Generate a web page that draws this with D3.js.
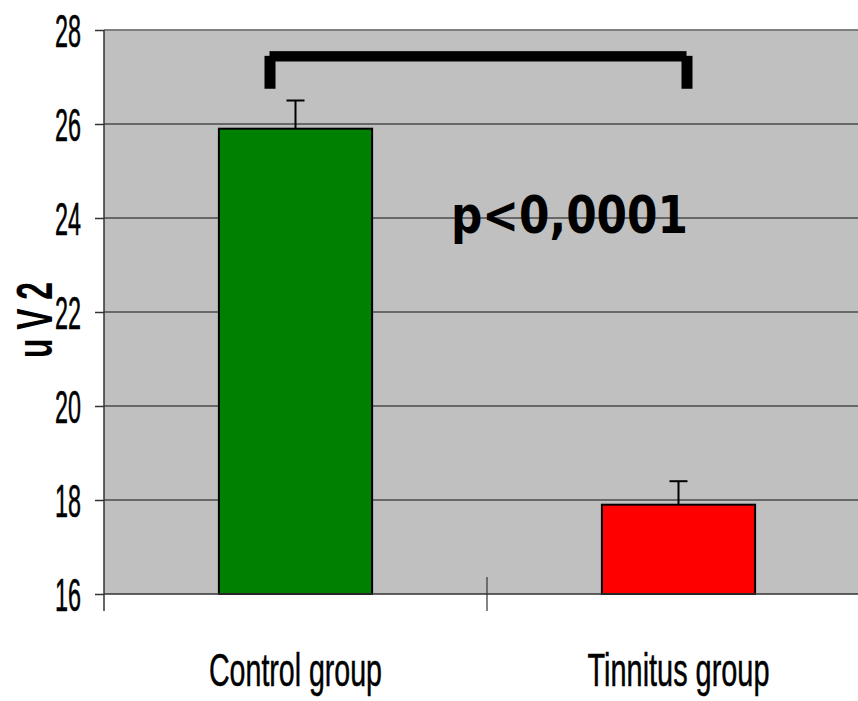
<!DOCTYPE html>
<html>
<head>
<meta charset="utf-8">
<script src="https://cdn.jsdelivr.net/npm/d3@7"></script>
<style>
  html, body { margin: 0; padding: 0; background: #fff; }
  svg { display: block; }
</style>
</head>
<body>
<svg id="chart" width="858" height="701"></svg>
<script>
// Mean amplitude per group (uV2) with upper error (mean + SE)
const groups = ["Control group", "Tinnitus group"];
const means = [25.9, 17.9];
const errTops = [26.5, 18.4];
const barColors = ["#008000", "#FF0000"];
const yTicks = [16, 18, 20, 22, 24, 26, 28];
const labelWidths = [173, 182];
const pLabel = "p<0,0001";

const svg = d3.select("#chart");
const plot = { left: 104, top: 30, right: 870, bottom: 594 };

const x = d3.scaleBand().domain(groups).range([plot.left, plot.right]).paddingInner(0.6).paddingOuter(0.3);
const band = d3.scaleBand().domain(groups).range([plot.left, plot.right]);
const y = d3.scaleLinear().domain([16, 28]).range([plot.bottom, plot.top]);

// Plot background
svg.append("rect")
  .attr("x", plot.left).attr("y", plot.top)
  .attr("width", plot.right - plot.left).attr("height", plot.bottom - plot.top)
  .attr("fill", "#C0C0C0");

// Horizontal gridlines
svg.append("g").selectAll("line")
  .data(yTicks.filter(t => t > 16 && t < 28))
  .join("line")
  .attr("x1", plot.left).attr("x2", plot.right)
  .attr("y1", d => y(d)).attr("y2", d => y(d))
  .attr("stroke", "#111").attr("stroke-width", 1);

// Top border of the plot area
svg.append("line")
  .attr("x1", plot.left).attr("x2", plot.right)
  .attr("y1", y(28)).attr("y2", y(28))
  .attr("stroke", "#808080").attr("stroke-width", 2);

// Bars
svg.append("g").selectAll("rect")
  .data(groups)
  .join("rect")
  .attr("x", d => x(d))
  .attr("y", (d, i) => y(means[i]))
  .attr("width", x.bandwidth())
  .attr("height", (d, i) => y(16) - y(means[i]))
  .attr("fill", (d, i) => barColors[i])
  .attr("stroke", "#000").attr("stroke-width", 2);

// Error bars
const eb = svg.append("g").attr("stroke", "#000").attr("stroke-width", 2);
groups.forEach((g, i) => {
  const cx = x(g) + x.bandwidth() / 2;
  eb.append("line").attr("x1", cx).attr("x2", cx).attr("y1", y(means[i])).attr("y2", y(errTops[i]));
  eb.append("line").attr("x1", cx - 9).attr("x2", cx + 9).attr("y1", y(errTops[i])).attr("y2", y(errTops[i]));
});

// Y axis
const yAxis = d3.axisLeft(y).tickValues(yTicks).tickSize(9).tickPadding(14).tickFormat(d3.format("d"));
const ya = svg.append("g").attr("transform", `translate(${plot.left},0)`).call(yAxis);
ya.select(".domain").remove();
ya.selectAll(".tick line").attr("stroke", "#333").attr("stroke-width", 1.5);
ya.selectAll(".tick text")
  .attr("fill", "#000")
  .attr("font-family", "'Liberation Sans', Arial, sans-serif")
  .attr("font-size", 46)
  .attr("dy", "0.35em")
  .attr("stroke", "#000").attr("stroke-width", 0.6)
  .attr("textLength", 26)
  .attr("lengthAdjust", "spacingAndGlyphs");
svg.append("line")
  .attr("x1", plot.left).attr("x2", plot.left)
  .attr("y1", plot.top).attr("y2", plot.bottom + 17)
  .attr("stroke", "#333").attr("stroke-width", 1.5);

// X axis baseline and category separators
svg.append("line")
  .attr("x1", plot.left).attr("x2", plot.right)
  .attr("y1", plot.bottom).attr("y2", plot.bottom)
  .attr("stroke", "#333").attr("stroke-width", 1.5);
svg.append("g").selectAll("line")
  .data(groups.slice(1))
  .join("line")
  .attr("x1", d => band(d)).attr("x2", d => band(d))
  .attr("y1", plot.bottom - 17).attr("y2", plot.bottom + 17)
  .attr("stroke", "#333").attr("stroke-width", 1.2);

// Category labels
svg.append("g").selectAll("text")
  .data(groups)
  .join("text")
  .attr("x", d => x(d) + x.bandwidth() / 2)
  .attr("y", 686)
  .attr("text-anchor", "middle")
  .attr("font-family", "'Liberation Sans', Arial, sans-serif")
  .attr("font-size", 46)
  .attr("stroke", "#000").attr("stroke-width", 0.5)
  .attr("textLength", (d, i) => labelWidths[i])
  .attr("lengthAdjust", "spacingAndGlyphs")
  .text(d => d);

// Y axis title
svg.append("text")
  .attr("transform", "translate(52,320) rotate(-90)")
  .attr("text-anchor", "middle")
  .attr("font-family", "'Liberation Sans', Arial, sans-serif")
  .attr("font-weight", "bold")
  .attr("font-size", 50)
  .attr("textLength", 76)
  .attr("lengthAdjust", "spacingAndGlyphs")
  .text("u V 2");

// Significance bracket between the two groups
const c0 = x(groups[0]) + x.bandwidth() / 2;
const c1 = x(groups[1]) + x.bandwidth() / 2;
const bracket = svg.append("g").attr("fill", "#000");
bracket.append("rect")
  .attr("x", c0 - 26).attr("y", y(27.55))
  .attr("width", (c1 + 8) - (c0 - 26)).attr("height", y(27.33) - y(27.55));
[c0 - 31, c1 + 3].forEach(lx => {
  bracket.append("rect")
    .attr("x", lx).attr("y", y(27.45))
    .attr("width", 11).attr("height", y(26.75) - y(27.45));
});

// Significance label
svg.append("text")
  .attr("x", 451).attr("y", 233)
  .attr("font-family", "'Comic Sans MS', 'DejaVu Sans', sans-serif")
  .attr("font-weight", "bold")
  .attr("font-size", 52)
  .attr("textLength", 237)
  .attr("lengthAdjust", "spacingAndGlyphs")
  .text(pLabel);
</script>
</body>
</html>
